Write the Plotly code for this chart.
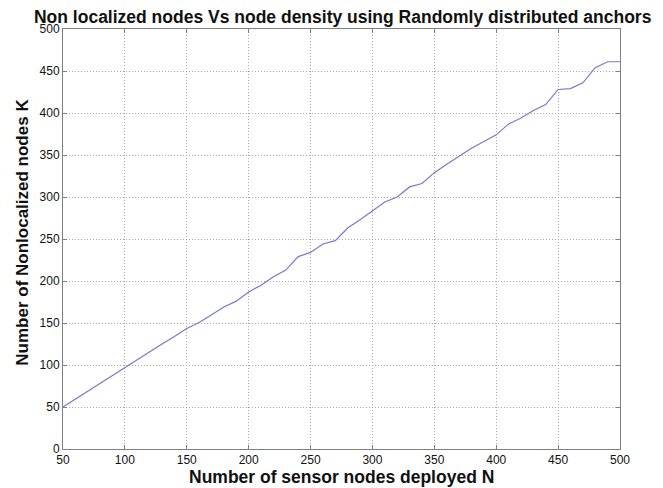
import plotly.graph_objects as go

nodes_deployed = [50, 60, 70, 80, 90, 100, 110, 120, 130, 140, 150, 160, 170, 180, 190,
                  200, 210, 220, 230, 240, 250, 260, 270, 280, 290, 300, 310, 320, 330,
                  340, 350, 360, 370, 380, 390, 400, 410, 420, 430, 440, 450, 460, 470,
                  480, 490, 500]
nonlocalized = [50, 59.5, 69, 78.5, 88, 97, 106, 115.5, 125, 134, 143.5, 150.5, 160, 169,
                176, 187, 195, 205, 213, 229, 234, 244, 248, 263, 273, 284, 294, 300, 312,
                316, 329, 339, 349, 358, 366, 374, 387, 394, 403, 410, 428, 429, 436, 454,
                461, 461]
x_ticks = [50, 100, 150, 200, 250, 300, 350, 400, 450, 500]
y_ticks = [0, 50, 100, 150, 200, 250, 300, 350, 400, 450, 500]

fig = go.Figure()
fig.add_trace(go.Scatter(x=nodes_deployed, y=nonlocalized, mode="lines",
                         line=dict(color="#7a78c8", width=1.2), showlegend=False))

font_family = "Liberation Sans, Arial, sans-serif"
axis_common = dict(showline=True, mirror="ticks", linecolor="#808080", linewidth=1,
                   ticks="inside", ticklen=4, tickcolor="#808080", automargin=False,
                   showgrid=True, gridcolor="#a8a8a8", griddash="1px,2px", gridwidth=1,
                   zeroline=False, tickfont=dict(family=font_family, size=12, color="#111"))

fig.update_layout(
    width=655, height=480,
    paper_bgcolor="white", plot_bgcolor="white",
    margin=dict(l=55, r=43, t=21, b=39, autoexpand=False),
    title=dict(text="<b>Non localized nodes Vs node density using Randomly distributed anchors</b>",
               x=0.511, xanchor="center", yref="container", y=0.982, yanchor="middle",
               automargin=False,
               font=dict(family=font_family, size=17.5, color="#111")),
    xaxis=dict(range=[50, 500], tickvals=x_ticks, **axis_common),
    yaxis=dict(range=[0, 500], tickvals=y_ticks, **axis_common),
    annotations=[
        dict(text="<b>Number of sensor nodes deployed N</b>", xref="paper", yref="paper",
             x=0.5, y=0, xanchor="center", yanchor="middle", yshift=-28, showarrow=False,
             font=dict(family=font_family, size=17.5, color="#111")),
        dict(text="<b>Number of Nonlocalized nodes K</b>", xref="paper", yref="paper",
             x=0, y=0.515, xanchor="center", yanchor="middle", xshift=-40, textangle=-90,
             showarrow=False, font=dict(family=font_family, size=17, color="#111")),
    ],
)

fig.write_html("out.html")
